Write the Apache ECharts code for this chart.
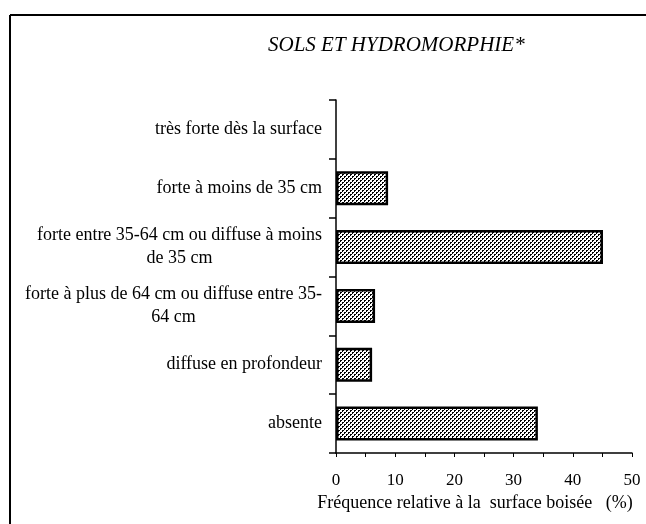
<!DOCTYPE html>
<html>
<head>
<meta charset="utf-8">
<script src="https://cdn.jsdelivr.net/npm/echarts@6/dist/echarts.min.js"></script>
<style>
  html, body { margin: 0; padding: 0; background: #fff; }
  #chart { width: 646px; height: 524px; }
</style>
</head>
<body>
<div id="chart"></div>
<script>
// catégories (de haut en bas)
const categories = [
  'très forte dès la surface',
  'forte à moins de 35 cm',
  'forte entre 35-64 cm ou diffuse à moins\nde 35 cm',
  'forte à plus de 64 cm ou diffuse entre 35-\n64 cm',
  'diffuse en profondeur',
  'absente'
]
// fréquence relative à la surface boisée (%)
const frequences = [0, 8.8, 45.1, 6.6, 6.1, 34.1]
const xTicks = [0, 10, 20, 30, 40, 50]

// trame pointillée des barres
const makePattern = () => {
  const c = document.createElement('canvas')
  c.width = 4
  c.height = 4
  const ctx = c.getContext('2d')
  ctx.fillStyle = '#fff'
  ctx.fillRect(0, 0, 4, 4)
  ctx.fillStyle = '#000'
  ;[[0, 0], [1, 0], [0, 1], [2, 2], [3, 2], [2, 3]].forEach(([x, y]) => ctx.fillRect(x, y, 1, 1))
  return c
}

const serif = '"Liberation Serif", "DejaVu Serif", serif'
const chart = echarts.init(document.getElementById('chart'))

const option = {
  animation: false,
  backgroundColor: '#fff',
  title: {
    text: 'SOLS ET HYDROMORPHIE*',
    left: 263,
    top: 30,
    textStyle: {
      fontFamily: serif,
      fontStyle: 'italic',
      fontWeight: 'normal',
      fontSize: 21,
      color: '#000'
    }
  },
  graphic: [
    { type: 'line', shape: { x1: 10, y1: 15, x2: 646, y2: 15 }, style: { stroke: '#000', lineWidth: 2 } },
    { type: 'line', shape: { x1: 10, y1: 15, x2: 10, y2: 524 }, style: { stroke: '#000', lineWidth: 2 } }
  ],
  grid: {
    left: 336,
    right: 14,
    top: 100,
    bottom: 71
  },
  xAxis: {
    type: 'value',
    min: xTicks[0],
    max: xTicks[xTicks.length - 1],
    interval: 10,
    name: 'Fréquence relative à la  surface boisée   (%)',
    nameLocation: 'middle',
    nameGap: 30,
    nameTextStyle: { fontFamily: serif, fontSize: 18, color: '#000', padding: [0, 18, 0, 0] },
    axisLine: { show: true, lineStyle: { color: '#000', width: 1.5 } },
    axisTick: { show: true, length: 4, lineStyle: { color: '#000' } },
    minorTick: { show: true, splitNumber: 2, length: 4, lineStyle: { color: '#000' } },
    axisLabel: { fontFamily: serif, fontSize: 17, color: '#000', margin: 19 },
    splitLine: { show: false }
  },
  yAxis: {
    type: 'category',
    inverse: true,
    data: categories,
    axisLine: { show: true, lineStyle: { color: '#000', width: 1.5 } },
    axisTick: { show: true, length: 7, lineStyle: { color: '#000', width: 1.5 } },
    axisLabel: {
      margin: 14,
      color: '#000',
      fontFamily: serif,
      fontSize: 18,
      lineHeight: 23,
      formatter: (v) => v.split('\n').map(l => '{c|' + l + '}').join('\n'),
      rich: {
        c: { align: 'center', fontFamily: serif, fontSize: 18, lineHeight: 23, color: '#000' }
      }
    }
  },
  series: [
    {
      type: 'bar',
      // une barre à 0 n'est pas tracée (pas de bordure)
      data: frequences.map(v => (v === 0 ? { value: v, itemStyle: { borderWidth: 0 } } : v)),
      barWidth: 34,
      itemStyle: {
        color: { image: makePattern(), repeat: 'repeat' },
        borderColor: '#000',
        borderWidth: 2.5
      }
    }
  ]
}

chart.setOption(option)
</script>
</body>
</html>
